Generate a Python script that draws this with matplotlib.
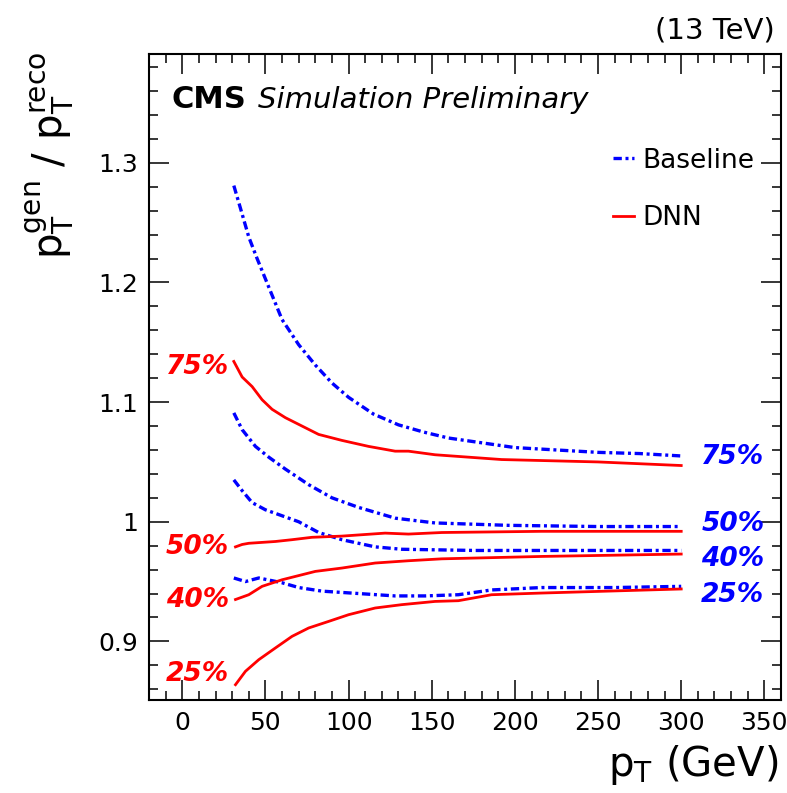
import matplotlib
matplotlib.use('Agg')
import matplotlib.pyplot as plt
from matplotlib.ticker import MultipleLocator, FormatStrFormatter

plt.rcParams['font.family'] = ['DejaVu Sans']
plt.rcParams['mathtext.fontset'] = 'dejavusans'
plt.rcParams['mathtext.default'] = 'regular'

# Response quantiles vs pT, baseline regression
base75_x = [31, 35, 40, 45, 50, 55, 60, 70, 80, 90, 100, 115, 130, 145, 160, 180, 200, 225, 250, 275, 300]
base75_y = [1.281, 1.262, 1.238, 1.220, 1.203, 1.186, 1.169, 1.148, 1.131, 1.116, 1.104, 1.090, 1.081,
            1.075, 1.070, 1.066, 1.062, 1.060, 1.058, 1.057, 1.055]
base50_x = [31, 36, 44, 52, 62, 76, 90, 106, 128, 152, 196, 250, 300]
base50_y = [1.091, 1.077, 1.063, 1.054, 1.044, 1.031, 1.020, 1.012, 1.003, 0.999, 0.997, 0.996, 0.996]
base40_x = [31, 36, 42, 50, 56, 70, 82, 96, 116, 132, 176, 250, 300]
base40_y = [1.035, 1.026, 1.016, 1.010, 1.007, 1.000, 0.991, 0.985, 0.979, 0.977, 0.976, 0.976, 0.976]
base25_x = [31, 38, 46, 60, 70, 84, 106, 128, 146, 166, 186, 216, 260, 300]
base25_y = [0.953, 0.950, 0.953, 0.949, 0.945, 0.942, 0.940, 0.938, 0.938, 0.939, 0.943, 0.945, 0.945, 0.946]

# Same quantiles for the DNN regression
dnn75_x = [31, 36, 42, 48, 54, 62, 72, 82, 96, 112, 128, 136, 152, 192, 250, 300]
dnn75_y = [1.134, 1.121, 1.113, 1.102, 1.094, 1.087, 1.080, 1.073, 1.068, 1.063, 1.059, 1.059, 1.056,
           1.052, 1.050, 1.047]
dnn50_x = [32, 34, 36, 40, 56, 66, 78, 96, 122, 136, 156, 216, 300]
dnn50_y = [0.979, 0.980, 0.981, 0.982, 0.9835, 0.985, 0.987, 0.988, 0.9905, 0.9897, 0.991, 0.992, 0.992]
dnn40_x = [32, 40, 48, 60, 72, 80, 96, 116, 136, 156, 186, 216, 300]
dnn40_y = [0.935, 0.939, 0.946, 0.9515, 0.9557, 0.9585, 0.9613, 0.9655, 0.9674, 0.969, 0.970, 0.971, 0.973]
dnn25_x = [32, 38, 46, 56, 66, 76, 88, 100, 116, 132, 152, 166, 186, 216, 300]
dnn25_y = [0.8638, 0.875, 0.8847, 0.8945, 0.9042, 0.9112, 0.9167, 0.9223, 0.9279, 0.9307, 0.9334, 0.934,
           0.939, 0.9404, 0.9438]

quantile_labels = ['75%', '50%', '40%', '25%']

fig = plt.figure(figsize=(7.87, 7.93), dpi=100)
ax = fig.add_axes([149 / 787, 93 / 793, 632 / 787, 646 / 793])

dashdot = (0, (2.5, 1.1, 0.9, 1.1))
base_curves = [(base75_x, base75_y), (base50_x, base50_y), (base40_x, base40_y), (base25_x, base25_y)]
dnn_curves = [(dnn75_x, dnn75_y), (dnn50_x, dnn50_y), (dnn40_x, dnn40_y), (dnn25_x, dnn25_y)]

for i, (x, y) in enumerate(base_curves):
    ax.plot(x, y, color='blue', lw=2.4, linestyle=dashdot, label='Baseline' if i == 0 else None)
for i, (x, y) in enumerate(dnn_curves):
    ax.plot(x, y, color='red', lw=2.0, label='DNN' if i == 0 else None)

# quantile tags: DNN on the left at the curve starts, baseline on the right
dnn_tag_y = [1.129, 0.979, 0.935, 0.873]
base_tag_y = [1.054, 0.998, 0.969, 0.939]
for lab, yv in zip(quantile_labels, dnn_tag_y):
    ax.text(28, yv, lab, color='red', fontsize=19, fontweight='bold', fontstyle='italic',
            ha='right', va='center')
for lab, yv in zip(quantile_labels, base_tag_y):
    ax.text(312, yv, lab, color='blue', fontsize=19, fontweight='bold', fontstyle='italic',
            ha='left', va='center')

ax.set_xlim(-20, 360)
ax.set_ylim(0.851, 1.391)
ax.xaxis.set_major_locator(MultipleLocator(50))
ax.xaxis.set_minor_locator(MultipleLocator(10))
ax.yaxis.set_major_locator(MultipleLocator(0.1))
ax.yaxis.set_minor_locator(MultipleLocator(0.02))
ax.yaxis.set_major_formatter(FormatStrFormatter('%g'))
ax.tick_params(which='both', direction='in', top=True, right=True, labelsize=18, width=1.1)
ax.tick_params(which='major', length=14.5, pad=8)
ax.tick_params(which='minor', length=6.5)
for sp in ax.spines.values():
    sp.set_linewidth(1.5)

ax.legend(loc='upper left', bbox_to_anchor=(0.734, 0.855), frameon=False, fontsize=19,
          handlelength=0.8, handletextpad=0.3, labelspacing=1.2, borderpad=0, borderaxespad=0)

ax.text(0.036, 0.929, 'CMS', transform=ax.transAxes, fontsize=22, fontweight='bold', va='center')
ax.text(0.1725, 0.929, 'Simulation Preliminary', transform=ax.transAxes, fontsize=21,
        fontstyle='italic', va='center')
fig.text(0.985, 0.961, '(13 TeV)', fontsize=21, ha='right', va='center')

fig.text(778 / 787, 1 - 765 / 793, r'p$_{T}$ (GeV)', fontsize=29, ha='right', va='center')
fig.text(50 / 787, 1 - 52 / 793, r'p$_{T}^{gen}$ / p$_{T}^{reco}$', fontsize=29, rotation=90,
         ha='center', va='top')

fig.savefig('out.png', dpi=100)
